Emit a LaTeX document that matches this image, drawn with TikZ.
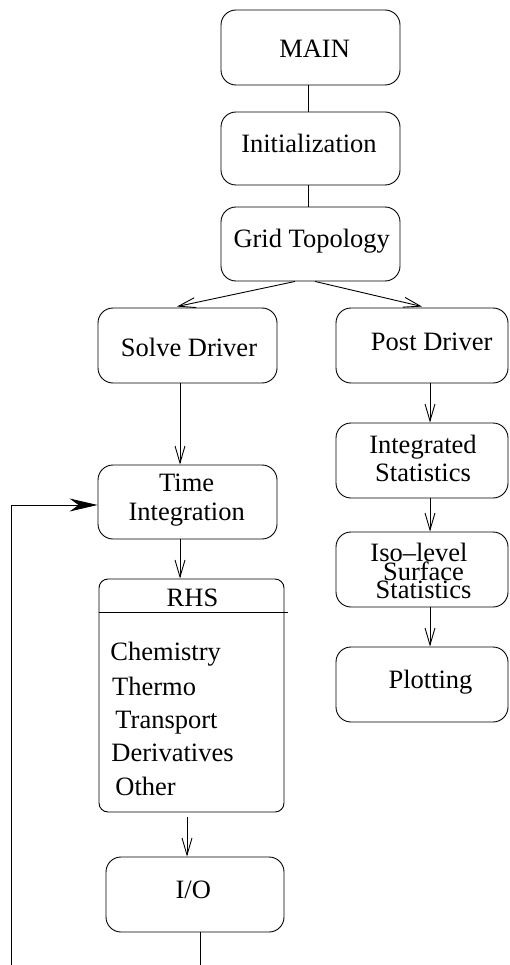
\documentclass[tikz,border=0pt]{standalone}
\usepackage{fontspec}
\setmainfont{Liberation Serif}
\usetikzlibrary{arrows.meta}
\begin{document}
\begin{tikzpicture}[x=1pt,y=-1pt, line width=0.9pt,
  box/.style={draw, rounded corners=15pt, inner sep=0pt, minimum width=179pt, minimum height=75pt},
  rbox/.style={box, minimum width=172pt},
  lbl/.style={anchor=base, inner sep=0pt, font=\fontsize{26.5}{30}\selectfont},
  itm/.style={anchor=base west, inner sep=0pt, font=\fontsize{26.5}{30}\selectfont},
  openarr/.style={-{Straight Barb[length=17pt,width=10pt]}},
  fillarr/.style={-{Stealth[length=28pt,width=13pt,inset=9pt]}}
]
\useasboundingbox (0,0) rectangle (509,965);

% boxes
\node[box] (main) at (310.5,47.5) {};
\node[box, minimum height=73pt] (init) at (310.5,148.5) {};
\node[box, minimum height=74pt] (grid) at (310.5,244) {};
\node[box] (solve) at (187.5,345.5) {};
\node[rbox] (post) at (422,345.5) {};
\node[box, minimum height=74pt] (time) at (187.5,502) {};
\node[rbox] (integ) at (422,460.5) {};
\node[rbox] (iso) at (422,569.5) {};
\node[rbox] (plot) at (422,684.5) {};
\node[draw, rounded corners=9pt, inner sep=0pt, minimum width=185pt, minimum height=233pt] (rhs) at (191.5,695.5) {};
\node[box, minimum width=178pt] (io) at (195,894.5) {};

% RHS header separator
\draw ([yshift=-34pt]rhs.north west) -- ++(189,0);

% labels
\node[lbl] (tmain) at (314.6,58) {MAIN};
\node[lbl] (tinit) at (309,153) {Initialization};
\node[lbl] (tgrid) at (311.7,248) {Grid Topology};
\node[lbl] (tsolve) at (189,356) {Solve Driver};
\node[lbl] (tpost) at (431.7,350) {Post Driver};
\node[lbl] (ttime1) at (186.7,491.7) {Time};
\node[lbl] (ttime2) at (186.7,520.7) {Integration};
\node[lbl] (tinteg1) at (423,453) {Integrated};
\node[lbl] (tinteg2) at (423,481.7) {Statistics};
\node[lbl] (tiso1) at (419,561.7) {Iso{\char"2013}level};
\node[lbl] (tiso2) at (423.5,580) {Surface};
\node[lbl] (tiso3) at (423.5,598.3) {Statistics};
\node[lbl] (tplot) at (430.5,688) {Plotting};
\node[lbl] (trhs) at (192.5,606.7) {RHS};
\node[itm] (tchem) at (110,660) {Chemistry};
\node[itm] (tthermo) at (111.7,695) {Thermo};
\node[itm] (ttrans) at (115,728) {Transport};
\node[itm] (tderiv) at (111,761.7) {Derivatives};
\node[itm] (tother) at (115,795) {Other};
\node[lbl] (tio) at (193.3,898) {I/O};

% free ends
\coordinate (iobot) at (200,965);
\coordinate (fbot) at (11,965);

% connectors
\draw ([xshift=-2.5pt]main.south) -- ([xshift=-2.5pt]init.north);
\draw ([xshift=-2.5pt]init.south) -- ([xshift=-2.5pt]grid.north);
\draw[openarr] ([xshift=-15.5pt]grid.south) -- ([xshift=-10.5pt,yshift=1pt]solve.north);
\draw[openarr] ([xshift=4.5pt]grid.south) -- ([yshift=1pt]post.north);
\draw[openarr] ([xshift=-7.5pt]solve.south) -- ([xshift=-7.5pt]time.north);
\draw[openarr] ([xshift=8pt]post.south) -- ([xshift=8pt]integ.north);
\draw[openarr] ([xshift=8pt]integ.south) -- ([xshift=8pt]iso.north);
\draw[openarr] ([xshift=8pt]iso.south) -- ([xshift=8pt]plot.north);
\draw[openarr] ([xshift=-7.5pt]time.south) -- ([xshift=-11.5pt]rhs.north);
\draw[openarr] ([xshift=-4.5pt,yshift=-5pt]rhs.south) -- ([xshift=-8pt]io.north);
\draw ([xshift=5pt]io.south) -- (iobot);
\draw[fillarr] (fbot) |- ([yshift=-3pt]time.west);
\end{tikzpicture}
\end{document}
